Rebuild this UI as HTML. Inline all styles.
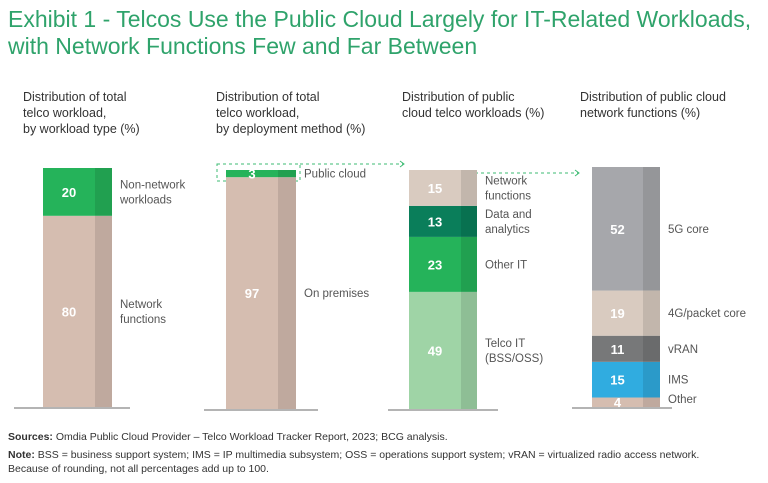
<!DOCTYPE html>
<html><head><meta charset="utf-8"><style>
body{margin:0;width:768px;height:483px;background:#fff;font-family:"Liberation Sans",sans-serif;overflow:hidden;position:relative}
.t{position:absolute;left:8px;top:6px;font-size:23px;line-height:27px;color:#2fa36b}
.h{position:absolute;font-size:12.5px;line-height:16px;color:#333}
.f{position:absolute;left:8px;font-size:10.5px;color:#333;line-height:14px}
</style></head><body>
<div class="t">Exhibit 1 - Telcos Use the Public Cloud Largely for IT-Related Workloads,<br>with Network Functions Few and Far Between</div>
<div class="h" style="left:23px;top:89px">Distribution of total<br>telco workload,<br>by workload type (%)</div>
<div class="h" style="left:216px;top:89px">Distribution of total<br>telco workload,<br>by deployment method (%)</div>
<div class="h" style="left:402px;top:89px">Distribution of public<br>cloud telco workloads (%)</div>
<div class="h" style="left:580px;top:89px">Distribution of public cloud<br>network functions (%)</div>
<svg id="c" width="768" height="483" style="position:absolute;left:0;top:0">
<rect x="217" y="164" width="83" height="17" fill="none" stroke="#3dbb73" stroke-dasharray="3,3"/>
<line x1="300" y1="164" x2="403" y2="164" stroke="#3dbb73" stroke-dasharray="3,3"/>
<path d="M400 161 L404 164 L400 167" fill="none" stroke="#3dbb73"/>
<line x1="445" y1="173" x2="578" y2="173" stroke="#3dbb73" stroke-dasharray="3,3"/>
<path d="M575 170 L579 173 L575 176" fill="none" stroke="#3dbb73"/>
</svg>
<div class="f" style="top:430px"><b>Sources:</b> Omdia Public Cloud Provider – Telco Workload Tracker Report, 2023; BCG analysis.</div>
<div class="f" style="top:448px"><b>Note:</b> BSS = business support system; IMS = IP multimedia subsystem; OSS = operations support system; vRAN = virtualized radio access network.<br>Because of rounding, not all percentages add up to 100.</div>
<script>
const p1Labels=["Network functions","Non-network workloads"];
const p1Values=[80,20];
const p2Labels=["On premises","Public cloud"];
const p2Values=[97,3];
const p3Labels=["Telco IT (BSS/OSS)","Other IT","Data and analytics","Network functions"];
const p3Values=[49,23,13,15];
const p4Labels=["Other","IMS","vRAN","4G/packet core","5G core"];
const p4Values=[4,15,11,19,52];
const svg=document.getElementById('c');const NS='http://www.w3.org/2000/svg';
const panels=[
{v:p1Values,l:p1Labels,x:43,w:69,s:52,top:168,bot:407,b0:14,b1:130,c:["#d5bdb0","#25b35a"],lines:[["Network","functions"],["Non-network","workloads"]]},
{v:p2Values,l:p2Labels,x:226,w:70,s:52,top:170,bot:409,b0:204,b1:318,c:["#d5bdb0","#25b35a"],lines:[["On premises"],["Public cloud"]]},
{v:p3Values,l:p3Labels,x:409,w:68,s:52,top:170,bot:409,b0:388,b1:498,c:["#9fd4a6","#25b35a","#0a7e5a","#d9cbc0"],lines:[["Telco IT","(BSS/OSS)"],["Other IT"],["Data and","analytics"],["Network","functions"]]},
{v:p4Values,l:p4Labels,x:592,w:68,s:51,top:167,bot:407,b0:572,b1:672,c:["#d5bdb0","#30ace0","#777879","#d9cbc0","#a6a7ab"],lines:[["Other"],["IMS"],["vRAN"],["4G/packet core"],["5G core"]]}];
function mk(t,a,name){const e=document.createElementNS(NS,t);for(const k in a)e.setAttribute(k,a[k]);


svg.appendChild(e);return e;}
panels.forEach((p,pi)=>{
const tot=p.v.reduce((a,b)=>a+b,0);const sc=(p.bot-p.top)/tot;let y=p.bot;
p.v.forEach((v,i)=>{const h=v*sc;y-=h;
mk('rect',{x:p.x,y:y,width:p.w,height:h,fill:p.c[i]},'bar-p'+(pi+1)+'-'+i);
mk('rect',{x:p.x+p.s,y:y,width:p.w-p.s,height:h,fill:'rgba(0,0,0,0.1)'},'bar-shade-p'+(pi+1)+'-'+i);
const t=mk('text',{x:p.x+p.s/2,y:y+h/2+5,'text-anchor':'middle','font-size':13,'font-weight':'bold',fill:'#fff','font-family':'Liberation Sans, sans-serif'},'value-label');t.textContent=v;
const ln=p.lines[i];const cy=(pi==3&&i==0)?y+h/2-3:y+h/2;
ln.forEach((s,k)=>{const tt=mk('text',{x:p.x+p.w+8,y:cy+4+(k-(ln.length-1)/2)*15,'font-size':11.5,fill:'#555','font-family':'Liberation Sans, sans-serif'},'segment-label');tt.textContent=s;});
});
mk('line',{x1:p.b0,x2:p.b1,y1:p.bot+1,y2:p.bot+1,stroke:'#888','stroke-width':1.2},'baseline');
});
</script>
</body></html>
